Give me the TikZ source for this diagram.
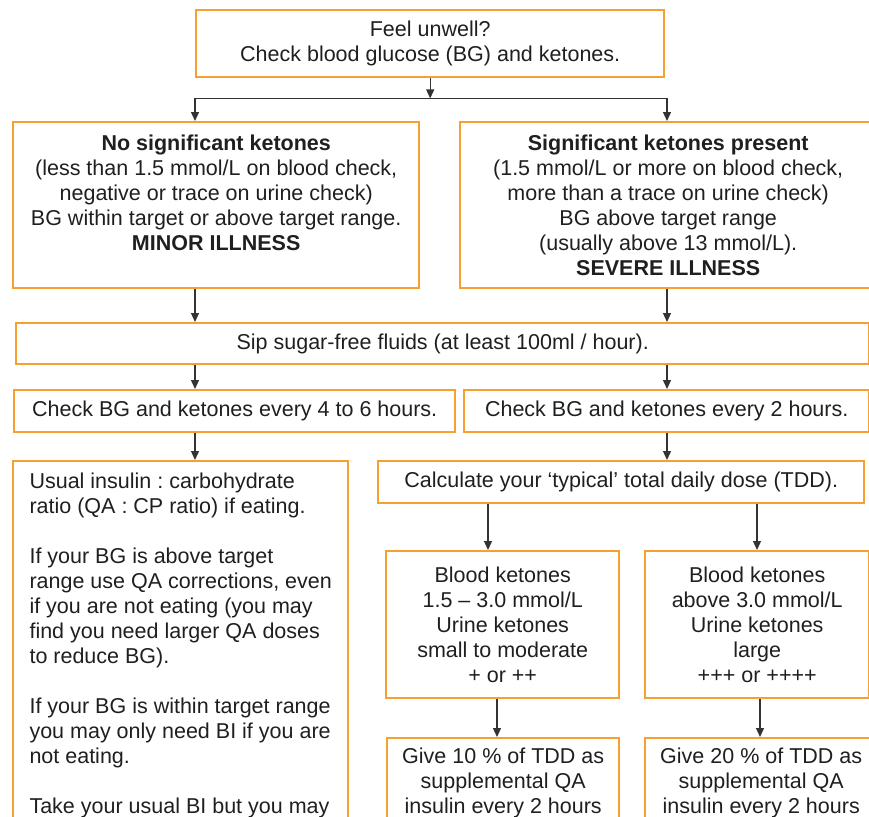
\documentclass[tikz,border=0pt]{standalone}
\usepackage{fontspec}
\setmainfont{Liberation Sans}
\usetikzlibrary{arrows.meta}
\definecolor{boxorange}{RGB}{246,160,48}
\frenchspacing

\begin{document}
\begin{tikzpicture}[x=1pt,y=-1pt,
  box/.style={draw=boxorange,line width=2.4pt,anchor=north west,align=center,
    inner xsep=2pt,inner ysep=0pt,text=black!88,font=\fontsize{21.5}{25}\selectfont},
  arr/.style={-{Triangle[length=9pt,width=8pt]},line width=1.3pt,black!80}]
\useasboundingbox (0,0) rectangle (869,816);
\clip (0,0) rectangle (869,816);
% columns the arrows run down
\coordinate (colL) at (195,0);
\coordinate (colR) at (667,0);
\coordinate (colA) at (488,0);
\coordinate (colB) at (757,0);
\coordinate (colC) at (497,0);
\coordinate (colD) at (760,0);

\node[box,minimum width=468pt,minimum height=67pt] (feel) at (195,9)
  {Feel unwell?\\Check blood glucose (BG) and ketones.};
\node[box,minimum width=406pt,minimum height=166pt] (minor) at (12,121)
  {\textbf{No significant ketones}\\(less than 1.5 mmol/L on blood check,\\
   negative or trace on urine check)\\BG within target or above target range.\\
   \textbf{MINOR ILLNESS}\\~};
\node[box,minimum width=416pt,minimum height=166pt] (severe) at (459,121)
  {\textbf{Significant ketones present}\\(1.5 mmol/L or more on blood check,\\
   more than a trace on urine check)\\BG above target range\\
   (usually above 13 mmol/L).\\\textbf{SEVERE ILLNESS}};
\node[box,minimum width=853pt,minimum height=41pt] (sip) at (15,322)
  {Sip sugar-free fluids (at least 100ml / hour).};
\node[box,minimum width=441pt,minimum height=42pt] (checkL) at (13,389)
  {Check BG and ketones every 4 to 6 hours.};
\node[box,minimum width=405pt,minimum height=42pt] (checkR) at (463,389)
  {Check BG and ketones every 2 hours.};
\node[box,minimum width=335pt,align=left,inner ysep=12pt] (usual) at (12,460)
  {Usual insulin : carbohydrate\\ratio (QA : CP ratio) if eating.\\[25pt]
   If your BG is above target\\range use QA corrections, even\\
   if you are not eating (you may\\find you need larger QA doses\\
   to reduce BG).\\[25pt]
   If your BG is within target range\\you may only need BI if you are\\
   not eating.\\[25pt]
   Take your usual BI but you may};
\node[box,minimum width=486pt,minimum height=42pt] (calc) at (377,460)
  {Calculate your ‘typical’ total daily dose (TDD).};
\node[box,minimum width=233pt,minimum height=147pt] (bloodA) at (385,550)
  {Blood ketones\\1.5 – 3.0 mmol/L\\Urine ketones\\small to moderate\\+ or ++};
\node[box,minimum width=224pt,minimum height=147pt] (bloodB) at (644,550)
  {Blood ketones\\above 3.0 mmol/L\\Urine ketones\\large\\+++ or ++++};
\node[box,minimum width=232pt,inner ysep=10pt] (giveA) at (386,737)
  {Give 10 \% of TDD as\\supplemental QA\\insulin every 2 hours};
\node[box,minimum width=232pt,inner ysep=10pt] (giveB) at (644,737)
  {Give 20 \% of TDD as\\supplemental QA\\insulin every 2 hours};

% split below the first box
\coordinate (fork) at ([yshift=-20pt]feel.south);
\draw[arr] (feel.south) -- (fork);
\draw[line width=1.3pt,black!80] (fork -| colL) -- (fork -| colR);
\draw[arr] (fork -| colL) -- (minor.north -| colL);
\draw[arr] (fork -| colR) -- (severe.north -| colR);

\foreach \a/\b/\c in {minor/sip/colL,severe/sip/colR,sip/checkL/colL,sip/checkR/colR,
    checkL/usual/colL,checkR/calc/colR,calc/bloodA/colA,calc/bloodB/colB,
    bloodA/giveA/colC,bloodB/giveB/colD}
  \draw[arr] (\a.south -| \c) -- (\b.north -| \c);
\end{tikzpicture}
\end{document}
